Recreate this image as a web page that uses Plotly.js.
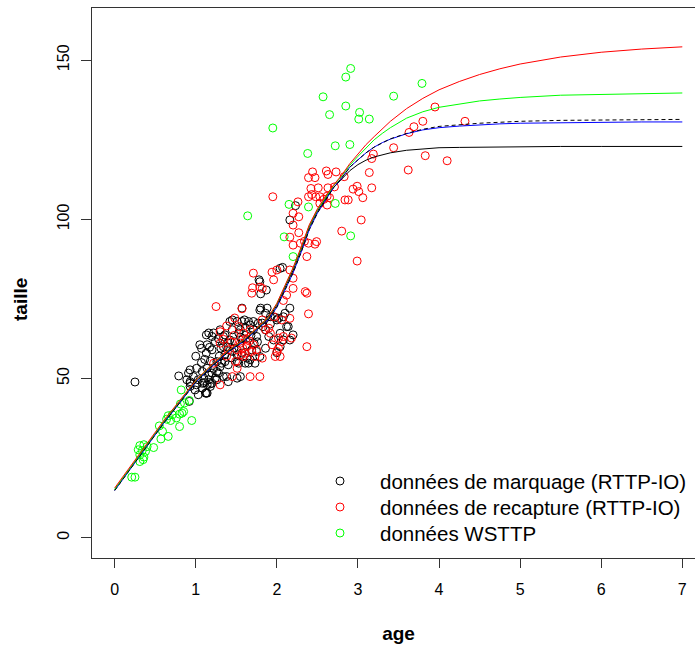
<!DOCTYPE html>
<html>
<head>
<meta charset="utf-8">
<script src="https://cdn.plot.ly/plotly-3.0.1.min.js"></script>
<style>
html,body{margin:0;padding:0;overflow:hidden;background:#fff;}
#chart{width:712px;height:647px;}
</style>
</head>
<body>
<div id="chart"></div>
<script>
// ---- data ----
const xTicks = [0,1,2,3,4,5,6,7];
const yTicks = [0,50,100,150];
const legendNames = ['données de marquage (RTTP-IO)','données de recapture (RTTP-IO)','données WSTTP'];
const seriesColors = ['#000000','#ff0000','#00ff00'];

// données de marquage (RTTP-IO) – black
const marqAge = [0.25,0.79,0.89,0.91,0.93,0.93,0.97,1.01,1.03,1.08,1.08,1.10,1.14,1.14,1.14,1.16,1.16,1.20,1.20,1.22,1.24,1.26,1.26,1.28,1.30,1.34,1.36,1.38,1.40,1.40,1.51,1.55,0.93,0.99,1.08,1.12,1.18,1.03,0.92,1.13,0.93,1.01,1.10,1.18,
 1.26,1.32,1.51,1.53,1.61,1.65,1.67,1.73,1.45,1.51,1.57,1.63,1.75,1.79,1.86,1.05,1.14,1.20,1.24,1.34,1.40,1.07,1.17,1.13,1.20,1.30,1.34,1.38,1.42,1.16,1.22,1.36,1.45,1.53,1.45,1.51,1.42,1.57,1.65,1.71,1.77,1.83,1.55,1.57,1.60,1.67,1.71,1.75,1.79,1.86,1.88,1.92,2.00,2.10,2.16,2.14,2.20,2.08,2.04,1.82,1.86,1.90,1.96,2.04,2.02,2.08,2.12,2.16,2.00,1.80,1.92,1.98,
 1.79,1.87,1.80,1.78,2.04,2.07,2.23,2.16,
 1.48,1.58,1.63,1.68,1.72,1.47,1.55,1.61,1.44,1.36,1.29,1.31,1.69,1.76,1.28,1.11,1.18,1.07,1.00,1.13];
const marqTaille = [48.9,50.8,49.6,51.7,49.0,52.7,50.6,53.2,49.6,48.5,52.2,50.1,48.0,45.4,53.2,51.1,49.6,48.5,51.7,53.2,50.1,52.2,49.6,51.7,53.7,50.6,55.3,50.6,49.0,54.3,50.1,50.6,47.5,46.4,47.0,45.4,47.5,44.9,42.8,45.4,48.5,48.0,48.7,48.3,
 55.3,54.8,55.3,54.8,54.8,54.8,55.9,54.8,58.5,57.4,58.0,56.4,58.5,56.9,59.5,60.6,60.6,59.0,61.6,60.0,61.1,59.5,59.8,63.7,63.2,65.3,63.2,60.0,62.1,64.3,64.3,63.7,65.3,64.3,68.4,67.9,67.9,67.9,67.9,67.9,67.4,66.3,65.3,72.1,68.4,66.8,65.3,63.2,71.5,70.5,72.1,69.4,68.4,70.5,72.1,66.3,63.7,62.1,64.2,67.4,65.3,63.2,62.1,60.0,68.9,69.4,66.3,62.1,58.1,72.1,67.1,69.2,
 80.4,77.8,76.6,81.0,84.6,84.9,104.3,99.8,
 61.5,62.5,60.5,63.5,61.0,59.5,63.0,66.0,56.5,57.5,57.0,59.5,59.0,61.5,62.5,56.0,55.5,55.0,57.0,58.0];

// données de recapture (RTTP-IO) – red
const recapAge = [3.95,4.32,3.80,3.69,3.63,3.44,3.83,4.10,3.62,3.19,3.17,3.14,2.83,3.17,2.99,2.94,3.01,3.06,2.84,2.88,3.04,2.80,2.99,
 2.44,2.39,2.47,2.61,2.63,2.73,2.42,2.51,2.63,2.71,2.48,2.53,2.62,2.39,2.65,2.43,2.53,2.58,2.62,1.95,2.26,2.20,2.27,2.20,2.16,2.27,2.34,2.20,2.49,2.47,2.37,2.29,2.39,
 1.71,1.94,2.16,1.96,1.70,1.69,1.82,2.20,2.20,2.12,2.35,2.37,2.39,2.37,2.00,1.96,2.06,2.16,1.86,1.92,2.08,2.06,2.04,1.79,2.08,1.25,1.57,
 1.30,1.34,1.30,1.53,1.59,1.67,1.55,1.63,1.51,1.71,1.69,1.73,1.59,1.49,1.51,1.67,1.79,1.30,1.22,1.90,2.02,1.94,2.00,1.45,2.18,1.82,1.75,1.82,
 1.40,1.44,1.47,1.38,1.58,1.62,1.56,1.66,1.61,1.38,1.48,2.02,1.98];
const recapTaille = [135.3,130.8,130.8,129.1,127.3,122.5,120.0,118.4,115.5,120.5,119.1,114.7,113.4,109.9,110.4,109.5,108.7,106.8,106.1,106.1,99.8,96.3,86.9,
 114.9,113.1,113.1,115.2,114.1,114.9,109.7,109.9,109.9,110.2,107.1,107.1,107.3,107.1,106.8,107.8,105.0,106.3,104.5,107.1,105.5,101.9,100.8,98.2,94.4,95.8,93.1,91.9,93.0,92.2,88.3,92.5,92.5,
 83.1,83.4,84.1,81.0,78.5,76.8,78.3,81.5,78.3,76.2,77.3,76.8,70.3,60.0,84.1,69.4,68.4,68.9,65.3,64.2,63.2,61.6,56.9,78.7,74.5,72.6,71.9,
 64.7,62.3,61.1,66.3,64.2,65.3,61.1,60.0,59.0,60.6,58.5,56.9,56.9,55.3,53.2,50.6,50.6,48.0,54.8,65.8,62.7,60.6,58.5,50.6,62.7,56.4,59.0,68.4,
 59.0,61.5,63.5,57.0,59.5,62.5,57.5,61.8,58.0,66.5,69.0,59.5,56.9];

// données WSTTP – green
const wsAge = [2.91,2.85,3.79,2.57,3.44,2.85,2.65,3.02,3.01,3.14,1.95,2.72,2.90,2.38,1.64,2.15,2.39,2.72,2.91,2.09,2.20,
 0.82,0.81,0.86,0.92,0.83,0.80,0.85,0.95,0.80,0.66,0.71,0.76,0.69,0.64,0.55,0.59,0.66,0.57,0.48,0.31,0.36,0.40,0.29,0.34,0.38,0.31,0.36,0.31,0.35,0.21,0.25];
const wsTaille = [147.4,144.7,142.7,138.5,138.7,135.6,132.9,133.6,131.5,131.5,128.7,123.1,123.5,120.7,101.1,104.7,103.9,105.0,94.8,94.5,88.3,
 46.4,42.0,42.3,43.1,39.1,38.8,39.6,36.8,34.9,38.3,38.6,37.6,36.8,37.2,35.1,33.4,31.8,31.0,28.3,28.9,29.2,28.6,27.6,27.4,27.1,26.0,25.3,23.9,24.5,19.0,19.0];

// growth curves
const curveAge = [0,0.2,0.4,0.6,0.8,1.0,1.2,1.4,1.6,1.8,1.9,2.0,2.1,2.2,2.3,2.4,2.5,2.6,2.7,2.8,2.9,3.0,3.1,3.2,3.3,3.4,3.6,3.8,4.0,4.25,4.5,4.75,5.0,5.5,6.0,6.5,7.0];
const curveBlackSolid = [15,22,29,36,42.5,49,54,58.5,62,66.5,69,73,78.5,84,90.5,97.5,102.5,106.5,110,112.8,115.3,117.2,118.6,119.6,120.3,120.9,121.7,122.2,122.5,122.6,122.7,122.8,122.8,122.9,122.9,122.9,122.9];
const curveBlackDash  = [14.8,21.8,28.8,35.8,42.3,48.8,53.8,58.3,61.8,66.2,68.6,72.4,77.8,83.2,89.7,96.8,102.0,106.2,110.0,113.0,116.4,118.7,120.9,122.7,124.1,125.3,127.0,128.3,129.2,129.8,130.2,130.5,130.8,131.1,131.2,131.3,131.4];
const curveBlue       = [14.8,21.8,28.8,35.8,42.3,48.8,53.8,58.3,61.8,66.2,68.6,72.4,77.8,83.2,89.7,96.8,102.0,106.2,110.0,113.0,116.4,118.7,120.9,122.7,124.1,125.2,126.9,128.1,128.8,129.3,129.7,130.0,130.2,130.4,130.5,130.6,130.6];
const curveGreen      = [15.2,22.3,29.3,36.3,42.8,49.3,54.3,58.8,62.3,66.8,69.4,73.5,79.0,84.6,91.0,98.0,103.0,107.0,110.6,113.6,117.0,119.8,122.5,125.0,127.0,128.8,131.8,133.8,135.2,136.3,137.2,137.8,138.3,139.0,139.3,139.5,139.7];
const curveRed        = [15.6,22.7,29.7,36.6,43.0,49.4,54.4,58.9,62.4,66.9,69.5,73.6,79.2,84.8,91.3,98.3,103.3,107.3,110.8,113.9,117.5,120.5,123.5,126.0,128.5,130.8,134.8,138.0,140.7,143.3,145.5,147.3,148.8,151.0,152.5,153.5,154.2];

const FONT = 'Liberation Sans, Arial, sans-serif';
function pts(x,y,color,name){
  return {x:x,y:y,type:'scatter',mode:'markers',name:name,showlegend:false,
    marker:{symbol:'circle-open',size:8,color:color,line:{width:1,color:color}},
    hoverinfo:'skip'};
}
function line(y,color,dash){
  return {x:curveAge,y:y,type:'scatter',mode:'lines',showlegend:false,
    line:{color:color,width:1,dash:dash||'solid'},hoverinfo:'skip'};
}
const data = [
  pts(marqAge,marqTaille,seriesColors[0],legendNames[0]),
  pts(recapAge,recapTaille,seriesColors[1],legendNames[1]),
  pts(wsAge,wsTaille,seriesColors[2],legendNames[2]),
  line(curveBlackSolid,'#000000'),
  line(curveBlue,'#0000ff'),
  line(curveBlackDash,'#000000','4px,3px'),
  line(curveGreen,'#00ff00'),
  line(curveRed,'#ff0000')
];

// plot area in pixels: left 92, right 705, top 8, bottom 558
const PL=92, PR=705, PT=8, PB=558;
const px2x = p => (p-PL)/(PR-PL);
const py2y = p => (PB-p)/(PB-PT);
const legRows = [481,507,533];
const shapes = [], annotations = [];
legendNames.forEach((n,i)=>{
  shapes.push({type:'circle',xref:'paper',yref:'paper',xsizemode:'pixel',ysizemode:'pixel',
    xanchor:px2x(340),yanchor:py2y(legRows[i]),x0:-4,x1:4,y0:-4,y1:4,
    line:{color:seriesColors[i],width:1},fillcolor:'rgba(0,0,0,0)'});
  annotations.push({xref:'paper',yref:'paper',x:px2x(378),y:py2y(legRows[i]),xanchor:'left',yanchor:'middle',
    text:n,showarrow:false,font:{family:FONT,size:20.5,color:'#000'}});
});
annotations.push({xref:'paper',yref:'paper',x:px2x(20),y:py2y(300),xanchor:'center',yanchor:'middle',
  text:'<b>taille</b>',textangle:-90,showarrow:false,font:{family:FONT,size:19,color:'#000'}});

const layout = {
  width:712,height:647,
  margin:{l:PL,r:712-PR,t:PT,b:647-PB},
  paper_bgcolor:'#fff',plot_bgcolor:'#fff',
  font:{family:FONT,color:'#000',size:16},
  showlegend:false,
  shapes:shapes, annotations:annotations,
  xaxis:{range:[-0.28,7.28],tickvals:xTicks,ticktext:xTicks.map(String),
    showgrid:false,zeroline:false,showline:true,mirror:true,linecolor:'#333',linewidth:1,
    ticks:'outside',ticklen:9,tickcolor:'#333',ticklabelstandoff:8,
    tickfont:{size:16,family:FONT},
    title:{text:'<b>age</b>',font:{size:19,family:FONT},standoff:29}},
  yaxis:{range:[-6.4,166.4],tickvals:yTicks,ticktext:yTicks.map(String),tickangle:-90,
    showgrid:false,zeroline:false,showline:true,mirror:true,linecolor:'#333',linewidth:1,
    ticks:'outside',ticklen:10,tickcolor:'#333',ticklabelstandoff:6,
    tickfont:{size:16,family:FONT}}
};
Plotly.newPlot('chart',data,layout,{displayModeBar:false,staticPlot:true});
</script>
</body>
</html>
